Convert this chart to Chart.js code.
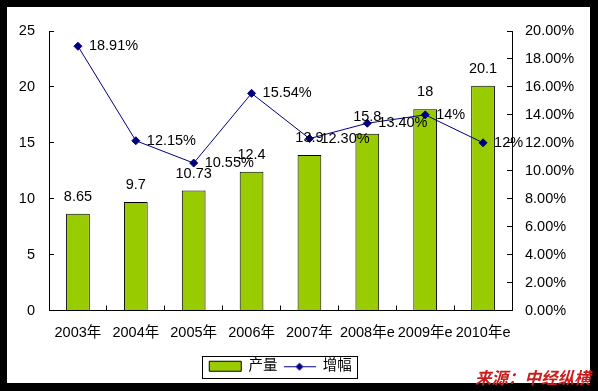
<!DOCTYPE html>
<html><head><meta charset="utf-8">
<script src="https://cdn.jsdelivr.net/npm/chart.js@4/dist/chart.umd.min.js"></script>
<style>
html,body{margin:0;padding:0;background:#000;}
#wrap{position:relative;width:598px;height:391px;overflow:hidden;}
canvas{display:block;}
#src{position:absolute;left:475px;top:369px;font:italic bold 16.5px "Noto Sans CJK SC";line-height:17px;color:#c81e1e;white-space:nowrap;}
</style></head><body>
<div id="wrap"><canvas id="c" width="598" height="391"></canvas><div id="src">来源：中经纵横</div></div>
<script>
const categories = ['2003年','2004年','2005年','2006年','2007年','2008年e','2009年e','2010年e'];
const output = [8.65, 9.7, 10.73, 12.4, 13.9, 15.8, 18, 20.1];
const outputLabels = ['8.65','9.7','10.73','12.4','13.9','15.8','18','20.1'];
const growth = [18.91, 12.15, 10.55, 15.54, 12.30, 13.40, 14, 12];
const growthLabels = ['18.91%','12.15%','10.55%','15.54%','12.30%','13.40%','14%','12%'];
const seriesNames = ['产量','增幅'];

const FONT = '"Liberation Sans","Noto Sans CJK SC",Arial,sans-serif';
const FS = 14.5;
const GREEN = '#99cc00';
const NAVY = '#000080';

// legend marker for line series
const lineIcon = document.createElement('canvas');
lineIcon.width = 32; lineIcon.height = 10;
(function(){
  const g = lineIcon.getContext('2d');
  g.strokeStyle = NAVY; g.lineWidth = 1;
  g.beginPath(); g.moveTo(0,5.5); g.lineTo(32,5.5); g.stroke();
  g.fillStyle = NAVY; g.beginPath();
  g.moveTo(16,1.5); g.lineTo(20,5.5); g.lineTo(16,9.5); g.lineTo(12,5.5); g.closePath(); g.fill();
})();

const bgPlugin = {
  id:'bg',
  beforeDraw(chart){
    const c = chart.ctx;
    c.save();
    c.fillStyle = '#000'; c.fillRect(0,0,chart.width,chart.height);
    c.fillStyle = '#fff'; c.fillRect(7,7,583,376);
    c.restore();
  },
  afterDraw(chart){
    const lg = chart.legend;
    if (!lg || !lg.legendHitBoxes || !lg.legendHitBoxes.length) return;
    const hb = lg.legendHitBoxes;
    let l = Infinity, r = -Infinity, t = Infinity, b = -Infinity;
    hb.forEach(h => { l = Math.min(l,h.left); r = Math.max(r,h.left+h.width); t = Math.min(t,h.top); b = Math.max(b,h.top+h.height); });
    const c = chart.ctx;
    c.save();
    c.strokeStyle = '#000'; c.lineWidth = 1;
    c.strokeRect(Math.round(l-7)+0.5, Math.round(t-3.5)+0.5, Math.round(r-l+13), Math.round(b-t+7));
    c.restore();
  }
};

const labelPlugin = {
  id:'vals',
  afterDatasetsDraw(chart){
    const c = chart.ctx;
    c.save();
    c.font = FS + 'px ' + FONT;
    c.fillStyle = '#000';
    c.textBaseline = 'middle';
    const bm = chart.getDatasetMeta(0);
    c.textAlign = 'center';
    bm.data.forEach((el,i) => c.fillText(outputLabels[i], el.x, el.y - 17));
    const lm = chart.getDatasetMeta(1);
    c.textAlign = 'left';
    lm.data.forEach((el,i) => c.fillText(growthLabels[i], el.x + 11, el.y));
    c.restore();
  }
};

Chart.defaults.font.family = FONT;
Chart.defaults.font.size = FS;
Chart.defaults.color = '#000';

new Chart(document.getElementById('c'), {
  type:'bar',
  data:{
    labels: categories,
    datasets:[
      { type:'bar', label:seriesNames[0], data:output, yAxisID:'y', order:1,
        backgroundColor:GREEN, borderColor:'#000', borderWidth:1,
        categoryPercentage:1, barPercentage:0.41 },
      { type:'line', label:seriesNames[1], data:growth, yAxisID:'y2', order:0,
        borderColor:NAVY, borderWidth:1, backgroundColor:NAVY,
        pointStyle:'rectRot', pointRadius:4, pointBackgroundColor:NAVY, pointBorderColor:NAVY,
        pointBorderWidth:1, tension:0 }
    ]
  },
  options:{
    responsive:false,
    animation:false,
    devicePixelRatio:1,
    layout:{ padding:{ left:7, top:31, right:8, bottom:7.5 } },
    plugins:{
      tooltip:{enabled:false},
      legend:{
        position:'bottom',
        fullSize:false,
        labels:{
          usePointStyle:true,
          pointStyleWidth:32,
          boxHeight:10,
          padding:6,
          font:{size:FS},
          color:'#000',
          generateLabels(chart){
            return [
              { text:seriesNames[0], fillStyle:GREEN, strokeStyle:'#000', lineWidth:1, pointStyle:'rect', datasetIndex:0, hidden:false },
              { text:seriesNames[1], fillStyle:NAVY, strokeStyle:NAVY, lineWidth:1, pointStyle:lineIcon, datasetIndex:1, hidden:false }
            ];
          }
        }
      }
    },
    scales:{
      x:{
        offset:true,
        grid:{ offset:true, drawOnChartArea:false, tickLength:-5, color:'#000', lineWidth:1 },
        border:{ display:true, color:'#000', width:1 },
        ticks:{ padding:18.3, maxRotation:0, autoSkip:false, font:{size:FS} },
        afterFit(s){ s.height = 42.5; }
      },
      y:{
        position:'left', min:0, max:25,
        ticks:{ stepSize:5, padding:19, font:{size:FS} },
        grid:{ drawOnChartArea:false, tickLength:-5, color:'#000', lineWidth:1 },
        border:{ display:true, color:'#000', width:1 },
        afterFit(s){ s.width = 42; }
      },
      y2:{
        position:'right', min:0, max:20,
        ticks:{ stepSize:2, padding:18, font:{size:FS}, callback:v => v.toFixed(2) + '%' },
        grid:{ drawOnChartArea:false, tickLength:-5, color:'#000', lineWidth:1 },
        border:{ display:true, color:'#000', width:1 },
        afterFit(s){ s.width = 78; }
      }
    }
  },
  plugins:[bgPlugin, labelPlugin]
});
</script>
</body></html>
